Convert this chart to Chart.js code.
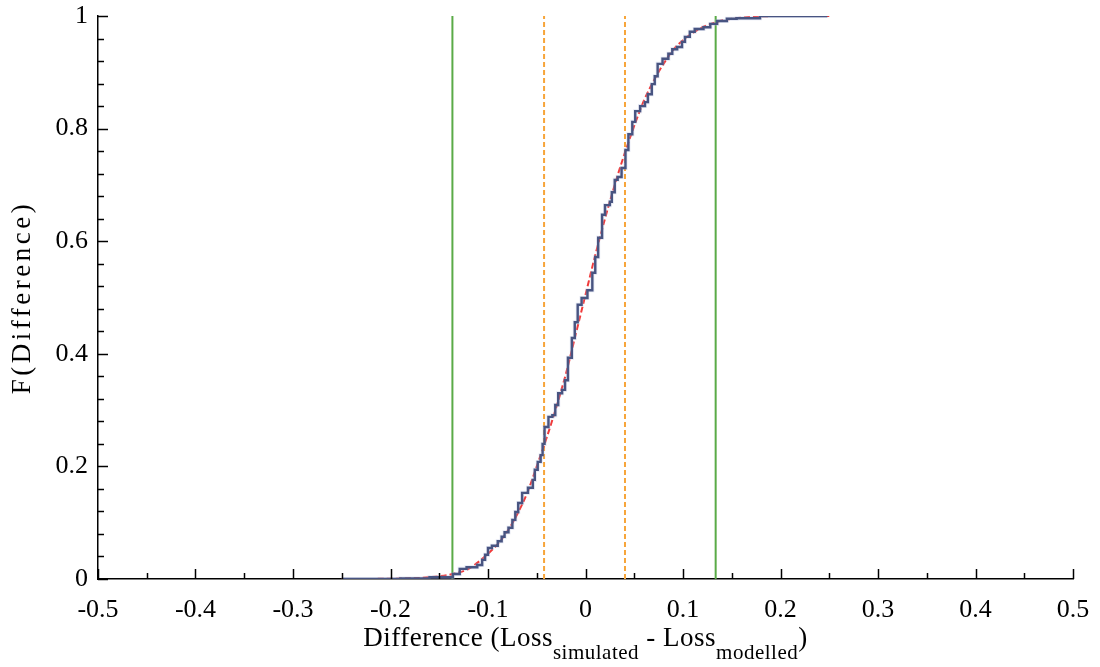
<!DOCTYPE html>
<html>
<head>
<meta charset="utf-8">
<script src="https://cdn.jsdelivr.net/npm/chart.js@4.4.1/dist/chart.umd.min.js"></script>
<style>
  html, body { margin: 0; padding: 0; background: #fff; }
  #wrap { width: 1100px; height: 667px; }
</style>
</head>
<body>
<div id="wrap"><canvas id="cdfChart" width="1100" height="667"></canvas></div>
<script>
const stepX = [-0.250, -0.190, -0.160, -0.136, -0.129, -0.122, -0.111, -0.106, -0.103, -0.100,
  -0.096, -0.090, -0.086, -0.083, -0.079, -0.075, -0.072, -0.069, -0.065, -0.059,
  -0.054, -0.052, -0.049, -0.046, -0.044, -0.042, -0.038, -0.034, -0.031, -0.028,
  -0.024, -0.021, -0.018, -0.014, -0.011, -0.008, -0.004, 0.002, 0.007, 0.010,
  0.013, 0.017, 0.020, 0.025, 0.027, 0.030, 0.033, 0.037, 0.041, 0.044,
  0.048, 0.051, 0.056, 0.061, 0.064, 0.068, 0.071, 0.074, 0.079, 0.085,
  0.089, 0.094, 0.099, 0.102, 0.107, 0.112, 0.121, 0.128, 0.135, 0.145,
  0.155, 0.179, 0.248]
const stepY = [0, 0.001, 0.003, 0.009, 0.018, 0.021, 0.025, 0.034, 0.043, 0.055,
  0.059, 0.067, 0.075, 0.083, 0.091, 0.105, 0.119, 0.135, 0.153, 0.162,
  0.176, 0.194, 0.208, 0.220, 0.240, 0.270, 0.288, 0.291, 0.309, 0.330,
  0.336, 0.353, 0.393, 0.428, 0.456, 0.487, 0.499, 0.513, 0.544, 0.572,
  0.606, 0.647, 0.664, 0.670, 0.687, 0.709, 0.714, 0.730, 0.762, 0.790,
  0.812, 0.831, 0.840, 0.847, 0.861, 0.879, 0.893, 0.915, 0.924, 0.933,
  0.941, 0.945, 0.954, 0.963, 0.972, 0.977, 0.980, 0.986, 0.991, 0.995,
  0.996, 1.0, 1.0]

// fitted curve (red dashed)
const fitX = [-0.25, -0.2, -0.17, -0.15, -0.136, -0.12, -0.11, -0.1, -0.09, -0.08, -0.07, -0.06,
  -0.05, -0.04, -0.03, -0.02, -0.01, 0, 0.01, 0.02, 0.03, 0.04, 0.05, 0.06,
  0.07, 0.08, 0.09, 0.1, 0.11, 0.12, 0.14, 0.16, 0.2, 0.25]
const fitY = [0, 0.0005, 0.002, 0.005, 0.009, 0.018, 0.03, 0.045, 0.062, 0.085, 0.115, 0.152,
  0.2, 0.25, 0.305, 0.365, 0.435, 0.505, 0.575, 0.64, 0.7, 0.755, 0.805, 0.85,
  0.885, 0.915, 0.94, 0.957, 0.97, 0.98, 0.992, 0.997, 1.0, 1.0]

// vertical reference lines
const greenX = [-0.1365, 0.1335]
const orangeX = [-0.0425, 0.0405]

const toPts = (xs, ys) => xs.map((x, i) => ({ x: x, y: ys[i] }))
const vLine = (x) => [{ x: x, y: 0 }, { x: x, y: 1 }]

const serif = '"Liberation Serif", "DejaVu Serif", serif'

const datasets = [
  { data: toPts(stepX, stepY), stepped: 'before', borderColor: 'rgba(170,178,215,0.3)', borderWidth: 4 },
  { data: toPts(stepX, stepY), stepped: 'before', borderColor: '#1f2c5c', borderWidth: 2.4 },
  { data: toPts(fitX, fitY), borderColor: '#f03a3a', borderWidth: 2, borderDash: [6, 3], cubicInterpolationMode: 'monotone' }
]
greenX.forEach((x) => datasets.push({ data: vLine(x), borderColor: '#5aab47', borderWidth: 2 }))
orangeX.forEach((x) => datasets.push({ data: vLine(x), borderColor: '#f7a53a', borderWidth: 2, borderDash: [5, 3] }))
datasets.forEach((d) => { d.pointRadius = 0; d.fill = false; d.showLine = true })

const isMultiple = (v, step) => Math.abs(v / step - Math.round(v / step)) < 1e-6

// drop the extra room Chart.js keeps for overhanging tick labels
const noOverhang = (s) => {
  s.paddingTop = 0
  s.paddingBottom = 0
  s.paddingLeft = 0
  s.paddingRight = 0
}

// inward major/minor ticks on both axes
const innerTicks = {
  id: 'innerTicks',
  afterDatasetsDraw(chart) {
    const { ctx, chartArea, scales } = chart
    ctx.save()
    ctx.strokeStyle = '#000'
    ctx.lineWidth = 1.5
    scales.x.ticks.forEach((t) => {
      const px = Math.round(scales.x.getPixelForValue(t.value)) + 0.5
      const len = isMultiple(t.value, 0.1) ? 10 : 6
      ctx.beginPath()
      ctx.moveTo(px, chartArea.bottom)
      ctx.lineTo(px, chartArea.bottom - len)
      ctx.stroke()
    })
    scales.y.ticks.forEach((t) => {
      const py = Math.round(scales.y.getPixelForValue(t.value)) + 0.5
      const len = isMultiple(t.value, 0.2) ? 10 : 6
      ctx.beginPath()
      ctx.moveTo(chartArea.left, py)
      ctx.lineTo(chartArea.left + len, py)
      ctx.stroke()
    })
    ctx.restore()
  }
}

// axis titles, with subscripts on the x title
const axisTitles = {
  id: 'axisTitles',
  afterDraw(chart) {
    const { ctx, chartArea } = chart
    ctx.save()
    ctx.fillStyle = '#000'
    ctx.textBaseline = 'alphabetic'
    ctx.textAlign = 'left'
    const big = '27px ' + serif
    const small = '21px ' + serif
    ctx.letterSpacing = '0.5px'
    const parts = [
      ['Difference (Loss', big, 0],
      ['simulated', small, 13],
      [' - Loss', big, 0],
      ['modelled', small, 13],
      [')', big, 0]
    ]
    let total = 0
    parts.forEach((p) => { ctx.font = p[1]; total += ctx.measureText(p[0]).width })
    let x = (chartArea.left + chartArea.right) / 2 - total / 2
    const base = 646
    parts.forEach((p) => {
      ctx.font = p[1]
      ctx.fillText(p[0], x, base + p[2])
      x += ctx.measureText(p[0]).width
    })

    ctx.translate(23, (chartArea.top + chartArea.bottom) / 2)
    ctx.rotate(-Math.PI / 2)
    ctx.font = big
    ctx.letterSpacing = '3.5px'
    ctx.textAlign = 'center'
    ctx.textBaseline = 'middle'
    ctx.fillText('F(Difference)', 0, 0)
    ctx.restore()
  }
}

new Chart(document.getElementById('cdfChart'), {
  type: 'line',
  data: { datasets: datasets },
  options: {
    responsive: false,
    animation: false,
    events: [],
    layout: { padding: { top: 16, right: 27, left: 0, bottom: 0 } },
    plugins: { legend: { display: false }, tooltip: { enabled: false } },
    scales: {
      x: {
        type: 'linear',
        min: -0.5,
        max: 0.5,
        grid: { drawOnChartArea: false, drawTicks: false },
        border: { display: true, color: '#000', width: 1.5 },
        afterFit: (s) => { s.height = 88; noOverhang(s) },
        ticks: {
          stepSize: 0.05,
          autoSkip: false,
          maxRotation: 0,
          padding: 16,
          color: '#000',
          font: { family: serif, size: 26 },
          callback: (v) => isMultiple(v, 0.1) ? String(Number(v.toFixed(1))) : ''
        }
      },
      y: {
        type: 'linear',
        min: 0,
        max: 1,
        grid: { drawOnChartArea: false, drawTicks: false },
        border: { display: true, color: '#000', width: 1.5 },
        afterFit: (s) => { s.width = 98; noOverhang(s) },
        ticks: {
          stepSize: 0.04,
          autoSkip: false,
          padding: 10,
          color: '#000',
          font: { family: serif, size: 26 },
          callback: (v) => isMultiple(v, 0.2) ? String(Number(v.toFixed(1))) : ''
        }
      }
    }
  },
  plugins: [innerTicks, axisTitles]
})
</script>
</body>
</html>
